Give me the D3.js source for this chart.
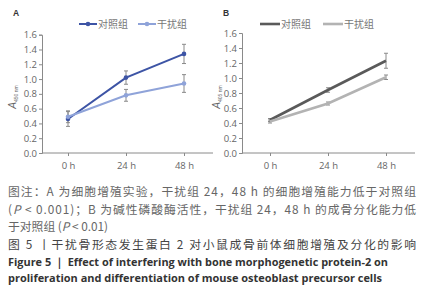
<!DOCTYPE html>
<html>
<head>
<meta charset="utf-8">
<script src="https://cdn.jsdelivr.net/npm/d3@7"></script>
<style>
  html, body { margin: 0; padding: 0; background: #fff; }
  svg { display: block; font-family: "Noto Sans CJK SC", "Noto Sans", sans-serif; }
</style>
</head>
<body>
<div id="chart"></div>
<script>
const timePoints = ['0 h', '24 h', '48 h'];
const yTicks = [0, 0.2, 0.4, 0.6, 0.8, 1.0, 1.2, 1.4, 1.6];
const seriesNames = ['对照组', '干扰组'];

// panel A: cell proliferation
const aControl = [0.46, 1.02, 1.34];
const aControlErr = [0.10, 0.09, 0.13];
const aInterfere = [0.49, 0.78, 0.94];
const aInterfereErr = [0.08, 0.08, 0.12];

// panel B: ALP activity
const bControl = [0.44, 0.84, 1.23];
const bControlErr = [0.02, 0.03, 0.10];
const bInterfere = [0.42, 0.66, 1.01];
const bInterfereErr = [0.02, 0.02, 0.03];

const captionNote = [
  '图注：A 为细胞增殖实验，干扰组 24，48 h 的细胞增殖能力低于对照组',
  '(P < 0.001)；B 为碱性磷酸酶活性，干扰组 24，48 h 的成骨分化能力低',
  '于对照组 (P < 0.01)'
];
const captionTitle = '图 5 丨干扰骨形态发生蛋白 2 对小鼠成骨前体细胞增殖及分化的影响';
const captionEn = [
  'Figure 5 ｜ Effect of interfering with bone morphogenetic protein-2 on',
  'proliferation and differentiation of mouse osteoblast precursor cells'
];

const width = 427, height = 300;
const svg = d3.select('#chart').append('svg')
  .attr('width', width)
  .attr('height', height);

function drawPanel(opts) {
  const g = svg.append('g');
  const x = d3.scalePoint().domain(timePoints).range(opts.xRange).padding(0.5);
  const y = d3.scaleLinear().domain([0, 1.6]).range([153, opts.yTop]);

  // axes
  const yAxis = g.append('g')
    .attr('transform', `translate(${opts.axisX},0)`)
    .call(d3.axisLeft(y).tickValues(yTicks).tickSize(3).tickFormat(d3.format('.1f')));
  const xAxis = g.append('g')
    .attr('transform', `translate(0,153)`)
    .call(d3.axisBottom(x).tickSize(3).tickSizeOuter(0));
  xAxis.select('.domain').attr('d', `M${opts.axisX},0H${opts.xRange[1]}`);
  g.selectAll('.domain').attr('stroke', '#8a8a8a');
  g.selectAll('.tick line').attr('stroke', '#8a8a8a');
  g.selectAll('.tick text').attr('fill', '#666').attr('font-size', 9.5)
    .attr('font-family', '"Open Sans", "Liberation Sans", sans-serif');
  yAxis.selectAll('.tick text').attr('x', -5);
  xAxis.selectAll('.tick text').attr('y', 9);

  // y label
  const yl = g.append('text')
    .attr('transform', `translate(${opts.labelX},97) rotate(-90)`)
    .attr('text-anchor', 'middle')
    .attr('fill', '#666')
    .attr('font-family', '"Liberation Sans", sans-serif');
  yl.append('tspan').attr('font-size', 10).attr('font-style', 'italic').text('A');
  yl.append('tspan').attr('font-size', 5).attr('dy', 2).text(opts.sub);

  // panel letter
  g.append('text')
    .attr('x', opts.letterX).attr('y', 16)
    .attr('font-size', 8.5).attr('font-weight', 700).attr('fill', '#333')
    .attr('font-family', '"Liberation Sans", sans-serif')
    .text(opts.letter);

  const line = d3.line().x((d, i) => x(timePoints[i])).y(d => y(d));

  opts.series.forEach((s) => {
    // error bars
    const eb = g.append('g').attr('stroke', '#8a8a8a').attr('stroke-width', 1);
    s.values.forEach((v, i) => {
      const cx = x(timePoints[i]);
      const lo = y(v - s.err[i]), hi = y(v + s.err[i]);
      eb.append('line').attr('x1', cx).attr('x2', cx).attr('y1', lo).attr('y2', hi);
      eb.append('line').attr('x1', cx - 2).attr('x2', cx + 2).attr('y1', lo).attr('y2', lo);
      eb.append('line').attr('x1', cx - 2).attr('x2', cx + 2).attr('y1', hi).attr('y2', hi);
    });
  });
  opts.series.forEach((s) => {
    g.append('path')
      .datum(s.values)
      .attr('fill', 'none')
      .attr('stroke', s.color)
      .attr('stroke-width', opts.lineWidth)
      .attr('d', line);
    if (opts.markers) {
      g.selectAll(null).data(s.values).join('circle')
        .attr('cx', (d, i) => x(timePoints[i]))
        .attr('cy', d => y(d))
        .attr('r', 2.3)
        .attr('fill', s.color);
    }
  });

  // legend
  opts.series.forEach((s, k) => {
    const lx = opts.legend[k];
    g.append('line')
      .attr('x1', lx).attr('x2', lx + opts.legendLen)
      .attr('y1', 24).attr('y2', 24)
      .attr('stroke', s.color).attr('stroke-width', opts.lineWidth);
    if (opts.markers) {
      g.append('circle').attr('cx', lx + opts.legendLen / 2).attr('cy', 24)
        .attr('r', 2.3).attr('fill', s.color);
    }
    g.append('text')
      .attr('x', lx + opts.legendLen + 1).attr('y', 27.5)
      .attr('font-size', 10).attr('fill', '#777')
      .text(seriesNames[k]);
  });
}

drawPanel({
  letter: 'A', letterX: 13, labelX: 16, sub: '450 nm',
  axisX: 42, xRange: [39, 213], yTop: 34.7,
  markers: true, lineWidth: 2, legendLen: 18, legend: [79, 138],
  series: [
    { values: aControl, err: aControlErr, color: '#3d54a5' },
    { values: aInterfere, err: aInterfereErr, color: '#8fa3d9' }
  ]
});

drawPanel({
  letter: 'B', letterX: 223, labelX: 220, sub: '405 nm',
  axisX: 242, xRange: [241, 415], yTop: 33,
  markers: false, lineWidth: 2.6, legendLen: 20, legend: [260, 323],
  series: [
    { values: bControl, err: bControlErr, color: '#5a5a5a' },
    { values: bInterfere, err: bInterfereErr, color: '#b3b3b3' }
  ]
});

// caption
const cap = svg.append('g');
function addItalicP(textSel, str) {
  const parts = str.split('P');
  parts.forEach((p, i) => {
    if (i > 0) textSel.append('tspan').attr('font-style', 'italic').text('P');
    textSel.append('tspan').text(p);
  });
}
captionNote.forEach((t, i) => {
  const tx = cap.append('text')
    .attr('x', 8).attr('y', 196 + i * 17.5)
    .attr('font-size', 11.8).attr('fill', '#666');
  if (i < 2) tx.attr('textLength', 408).attr('lengthAdjust', 'spacing');
  addItalicP(tx, t);
});
cap.append('text')
  .attr('x', 8).attr('y', 249)
  .attr('font-size', 11.8).attr('fill', '#444')
  .attr('textLength', 408).attr('lengthAdjust', 'spacing')
  .text(captionTitle);
const enLen = [380, 374];
captionEn.forEach((t, i) => {
  cap.append('text')
    .attr('x', 8).attr('y', 266 + i * 16)
    .attr('font-size', 11).attr('font-weight', 700).attr('fill', '#333')
    .attr('font-family', '"Open Sans", "Noto Sans", sans-serif')
    .attr('textLength', enLen[i]).attr('lengthAdjust', 'spacingAndGlyphs')
    .text(t);
});
</script>
</body>
</html>
